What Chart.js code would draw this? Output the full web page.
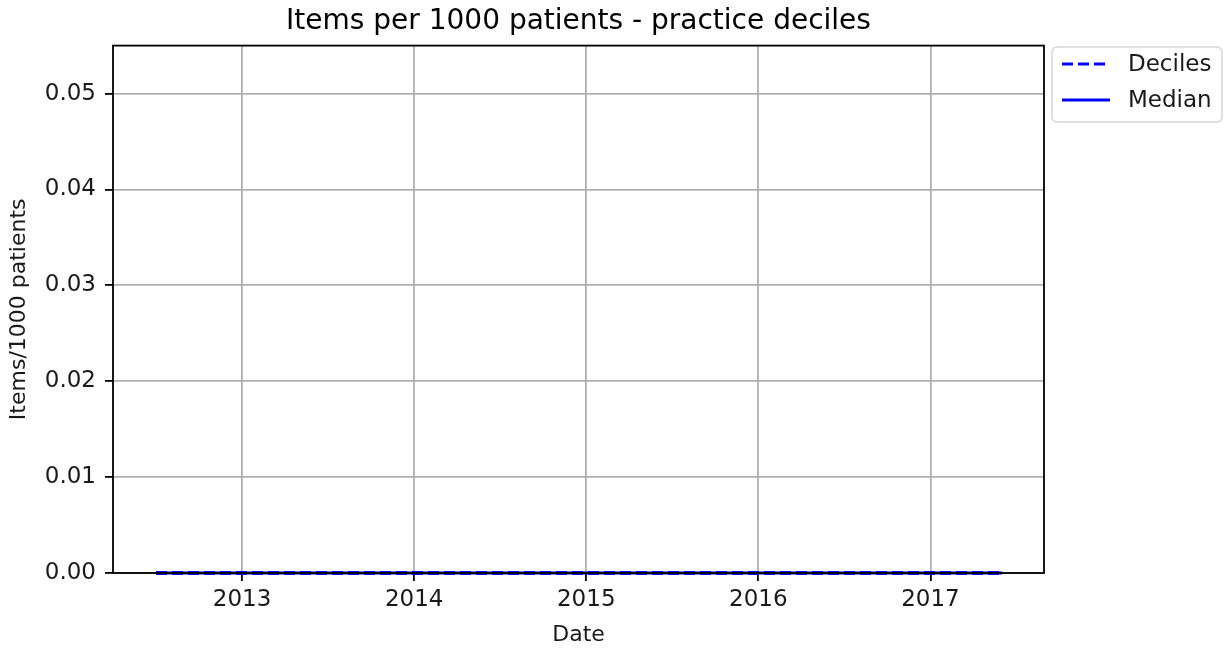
<!DOCTYPE html>
<html>
<head>
<meta charset="utf-8">
<script src="https://cdn.jsdelivr.net/npm/chart.js@4.4.1/dist/chart.umd.min.js"></script>
<style>
  html, body { margin: 0; padding: 0; background: #fff; }
  #wrap { width: 1225px; height: 649px; }
</style>
</head>
<body>
<div id="wrap"><canvas id="decileChart" width="1225" height="649"></canvas></div>
<script>
// Items per 1000 patients - practice deciles (monthly, Jul 2012 - Jun 2017)
const months = [
  "2012-07", "2012-08", "2012-09", "2012-10", "2012-11", "2012-12",
  "2013-01", "2013-02", "2013-03", "2013-04", "2013-05", "2013-06",
  "2013-07", "2013-08", "2013-09", "2013-10", "2013-11", "2013-12",
  "2014-01", "2014-02", "2014-03", "2014-04", "2014-05", "2014-06",
  "2014-07", "2014-08", "2014-09", "2014-10", "2014-11", "2014-12",
  "2015-01", "2015-02", "2015-03", "2015-04", "2015-05", "2015-06",
  "2015-07", "2015-08", "2015-09", "2015-10", "2015-11", "2015-12",
  "2016-01", "2016-02", "2016-03", "2016-04", "2016-05", "2016-06",
  "2016-07", "2016-08", "2016-09", "2016-10", "2016-11", "2016-12",
  "2017-01", "2017-02", "2017-03", "2017-04", "2017-05", "2017-06",
];

// every decile sits on zero across the whole period
const decileSeries = [
  0, 0, 0, 0, 0, 0, 0, 0, 0, 0, 0, 0, 0, 0, 0, 0, 0, 0, 0, 0,
  0, 0, 0, 0, 0, 0, 0, 0, 0, 0, 0, 0, 0, 0, 0, 0, 0, 0, 0, 0,
  0, 0, 0, 0, 0, 0, 0, 0, 0, 0, 0, 0, 0, 0, 0, 0, 0, 0, 0, 0,
];
const medianSeries = [
  0, 0, 0, 0, 0, 0, 0, 0, 0, 0, 0, 0, 0, 0, 0, 0, 0, 0, 0, 0,
  0, 0, 0, 0, 0, 0, 0, 0, 0, 0, 0, 0, 0, 0, 0, 0, 0, 0, 0, 0,
  0, 0, 0, 0, 0, 0, 0, 0, 0, 0, 0, 0, 0, 0, 0, 0, 0, 0, 0, 0,
];
const decileNames = ["10th", "20th", "30th", "40th", "60th", "70th", "80th", "90th"];

const yearTicks = [2013, 2014, 2015, 2016, 2017];
const yTicks = [0, 0.01, 0.02, 0.03, 0.04, 0.05];
const xMin = 2012.25, xMax = 2017.66;
const yMin = 0, yMax = 0.055;

const FONT = "'DejaVu Sans', sans-serif";
const BLUE = "#0000ff";
const TEXT = "#1a1a1a";

// month string -> fractional year for the linear x axis
function toYear(m) {
  const [y, mo] = m.split("-").map(Number);
  return y + (mo - 1) / 12;
}
function points(values) {
  return months.map((m, i) => ({ x: toYear(m), y: values[i] }));
}

const datasets = decileNames.map((name, i) => ({
  label: i === 0 ? "Deciles" : name,
  data: points(decileSeries),
  borderColor: BLUE,
  borderWidth: 3,
  borderDash: [11, 5],
  pointRadius: 0,
  fill: false,
  clip: false,
}));
datasets.push({
  label: "Median",
  data: points(medianSeries),
  borderColor: BLUE,
  borderWidth: 3,
  pointRadius: 0,
  fill: false,
  clip: false,
});

// frame on all four sides, drawn over the lines like matplotlib spines
const framePlugin = {
  id: "frame",
  afterDatasetsDraw(chart) {
    const { ctx, chartArea: a } = chart;
    ctx.save();
    ctx.strokeStyle = "#000";
    ctx.lineWidth = 1.8;
    ctx.strokeRect(a.left, a.top, a.right - a.left, a.bottom - a.top);
    ctx.restore();
  },
};

// legend box outside the axes, upper right
const legendPlugin = {
  id: "mplLegend",
  afterDraw(chart) {
    const { ctx } = chart;
    const bx = 1052, by = 47, bw = 170, bh = 75, r = 5;
    ctx.save();
    ctx.beginPath();
    ctx.moveTo(bx + r, by);
    ctx.arcTo(bx + bw, by, bx + bw, by + bh, r);
    ctx.arcTo(bx + bw, by + bh, bx, by + bh, r);
    ctx.arcTo(bx, by + bh, bx, by, r);
    ctx.arcTo(bx, by, bx + bw, by, r);
    ctx.closePath();
    ctx.fillStyle = "rgba(255,255,255,0.8)";
    ctx.fill();
    ctx.strokeStyle = "#d6d6d6";
    ctx.lineWidth = 1.5;
    ctx.stroke();

    const items = [
      { ds: chart.data.datasets[0], y: 64 },
      { ds: chart.data.datasets[chart.data.datasets.length - 1], y: 100 },
    ];
    ctx.font = "23px " + FONT;
    ctx.textBaseline = "middle";
    ctx.fillStyle = TEXT;
    items.forEach(({ ds, y }) => {
      ctx.beginPath();
      ctx.strokeStyle = ds.borderColor;
      ctx.lineWidth = ds.borderWidth;
      ctx.setLineDash(ds.borderDash || []);
      ctx.moveTo(1062, y);
      ctx.lineTo(1110, y);
      ctx.stroke();
      ctx.setLineDash([]);
      ctx.fillText(ds.label, 1128, y + 1);
    });
    ctx.restore();
  },
};

new Chart(document.getElementById("decileChart"), {
  type: "line",
  data: { datasets },
  plugins: [framePlugin, legendPlugin],
  options: {
    responsive: false,
    animation: false,
    layout: { padding: { left: 0, right: 181, top: 0, bottom: 0 } },
    plugins: {
      legend: { display: false },
      tooltip: { enabled: false },
      title: {
        display: true,
        text: "Items per 1000 patients - practice deciles",
        color: "#000",
        font: { family: FONT, size: 28, weight: "normal" },
        padding: { top: 5, bottom: 7 },
        fullSize: false,
      },
    },
    scales: {
      x: {
        type: "linear",
        min: xMin,
        max: xMax,
        afterBuildTicks: (s) => { s.ticks = yearTicks.map((v) => ({ value: v })); },
        afterFit: (s) => { s.height = 76; },
        grid: { color: "#b0b0b0", lineWidth: 1.8, tickLength: 8, tickColor: "#000", tickWidth: 1.8 },
        border: { display: false },
        ticks: {
          color: TEXT,
          font: { family: FONT, size: 23 },
          padding: 5,
          maxRotation: 0,
          callback: (v) => String(v),
        },
        title: {
          display: true,
          text: "Date",
          color: TEXT,
          font: { family: FONT, size: 22 },
          padding: { top: 0, bottom: 1 },
        },
      },
      y: {
        min: yMin,
        max: yMax,
        afterBuildTicks: (s) => { s.ticks = yTicks.map((v) => ({ value: v })); },
        afterFit: (s) => { s.width = 113; },
        grid: { color: "#b0b0b0", lineWidth: 1.8, tickLength: 8, tickColor: "#000", tickWidth: 1.8 },
        border: { display: false },
        ticks: {
          color: TEXT,
          font: { family: FONT, size: 23 },
          padding: 9,
          callback: (v) => v.toFixed(2),
        },
        title: {
          display: true,
          text: "Items/1000 patients",
          color: TEXT,
          font: { family: FONT, size: 22 },
          padding: { top: 6, bottom: 0 },
        },
      },
    },
  },
});
</script>
</body>
</html>
